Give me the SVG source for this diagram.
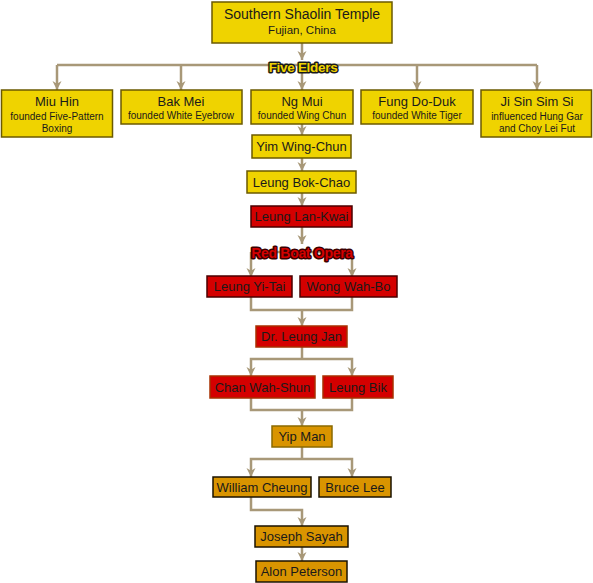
<svg xmlns="http://www.w3.org/2000/svg" width="593" height="583" viewBox="0 0 593 583">
<defs>
<marker id="arr" viewBox="0 0 10 10" refX="10" refY="5" markerWidth="9" markerHeight="10" markerUnits="userSpaceOnUse" orient="auto">
<path d="M0,0 L10,5 L0,10 L3,5 z" fill="#a89878"/>
</marker>
<style>
.c{fill:none;stroke:#a89878;stroke-width:2.5}
.y{fill:#efd300;stroke:#6b5a00;stroke-width:1.5}
.r{fill:#d40000;stroke:#4a0000;stroke-width:1.5}
.r2{fill:#d40000;stroke:#a83000;stroke-width:1.5}
.o{fill:#d99400;stroke:#1a1200;stroke-width:1.5}
.o2{fill:#d99400;stroke:#8a6a00;stroke-width:1.5}
text{font-family:"Liberation Sans","DejaVu Sans",sans-serif;fill:#1a1a1a;text-anchor:middle}
.n{font-size:13px}
.s{font-size:10px}
.t{font-size:14px}
.lbl{font-weight:bold;stroke:#1a1a1a;stroke-width:3px;paint-order:stroke;stroke-linejoin:round;letter-spacing:-0.3px}
</style>
</defs>
<g id="connectors">
<path class="c" d="M302,43 V60" marker-end="url(#arr)"/>
<path class="c" d="M57,65 H537"/>
<path class="c" d="M57,65 V90" marker-end="url(#arr)"/>
<path class="c" d="M181,65 V90" marker-end="url(#arr)"/>
<path class="c" d="M302,65 V90" marker-end="url(#arr)"/>
<path class="c" d="M417,65 V90" marker-end="url(#arr)"/>
<path class="c" d="M537,65 V90" marker-end="url(#arr)"/>
<path class="c" d="M302,124 V135" marker-end="url(#arr)"/>
<path class="c" d="M302,158 V171" marker-end="url(#arr)"/>
<path class="c" d="M302,193 V206" marker-end="url(#arr)"/>
<path class="c" d="M302,227 V244" marker-end="url(#arr)"/>
<path class="c" d="M251,252 H352"/>
<path class="c" d="M251,252 V277" marker-end="url(#arr)"/>
<path class="c" d="M352,252 V277" marker-end="url(#arr)"/>
<path class="c" d="M251,297 V310 H352 V297"/>
<path class="c" d="M302,310 V326" marker-end="url(#arr)"/>
<path class="c" d="M302,347 V359"/>
<path class="c" d="M302,359 H251 V376" marker-end="url(#arr)"/>
<path class="c" d="M302,359 H352 V376" marker-end="url(#arr)"/>
<path class="c" d="M251,398 V410 H352 V398"/>
<path class="c" d="M302,410 V426" marker-end="url(#arr)"/>
<path class="c" d="M302,447 V459"/>
<path class="c" d="M302,459 H251 V477" marker-end="url(#arr)"/>
<path class="c" d="M302,459 H352 V477" marker-end="url(#arr)"/>
<path class="c" d="M251,497 V510 H302 V526" marker-end="url(#arr)"/>
<path class="c" d="M302,547 V561" marker-end="url(#arr)"/>
</g>
<g id="temple"><rect class="y" x="212" y="2" width="180" height="41"/><text class="t" x="302" y="19">Southern Shaolin Temple</text><text class="s" x="302" y="34" style="font-size:11.5px">Fujian, China</text></g>
<g id="five-elders"><text class="lbl" x="303" y="71.5" style="fill:#efd300;font-size:13.5px">Five Elders</text></g>
<g id="miu-hin"><rect class="y" x="1.5" y="90" width="111" height="47"/><text class="n" x="57" y="106">Miu Hin</text><text class="s" x="57" y="120">founded Five-Pattern</text><text class="s" x="57" y="132">Boxing</text></g>
<g id="bak-mei"><rect class="y" x="121" y="90" width="121" height="34"/><text class="n" x="181" y="106">Bak Mei</text><text class="s" x="181" y="119">founded White Eyebrow</text></g>
<g id="ng-mui"><rect class="y" x="251" y="90" width="102" height="34"/><text class="n" x="302" y="106">Ng Mui</text><text class="s" x="302" y="119">founded Wing Chun</text></g>
<g id="fung-do-duk"><rect class="y" x="361" y="90" width="112" height="34"/><text class="n" x="417" y="106">Fung Do-Duk</text><text class="s" x="417" y="119">founded White Tiger</text></g>
<g id="ji-sin-sim-si"><rect class="y" x="481" y="90" width="110.5" height="47"/><text class="n" x="537" y="106">Ji Sin Sim Si</text><text class="s" x="537" y="120">influenced Hung Gar</text><text class="s" x="537" y="132">and Choy Lei Fut</text></g>
<g id="yim-wing-chun"><rect class="y" x="252" y="135" width="99" height="23"/><text class="n" x="301.5" y="151">Yim Wing-Chun</text></g>
<g id="leung-bok-chao"><rect class="y" x="247" y="171" width="109" height="22"/><text class="n" x="301.5" y="187">Leung Bok-Chao</text></g>
<g id="leung-lan-kwai"><rect class="r" x="251" y="206" width="101" height="21"/><text class="n" x="301.5" y="221">Leung Lan-Kwai</text></g>
<g id="red-boat-opera"><text class="lbl" x="302" y="257.5" style="fill:#d40000;stroke:#3a0000;font-size:14px">Red Boat Opera</text></g>
<g id="leung-yi-tai"><rect class="r" x="207" y="276" width="85" height="21"/><text class="n" x="249.5" y="291">Leung Yi-Tai</text></g>
<g id="wong-wah-bo"><rect class="r" x="300" y="276" width="97" height="21"/><text class="n" x="348.5" y="291">Wong Wah-Bo</text></g>
<g id="dr-leung-jan"><rect class="r2" x="256" y="326" width="91" height="21"/><text class="n" x="301.5" y="341">Dr. Leung Jan</text></g>
<g id="chan-wah-shun"><rect class="r2" x="210" y="376" width="105" height="22"/><text class="n" x="262.5" y="392">Chan Wah-Shun</text></g>
<g id="leung-bik"><rect class="r2" x="323" y="376" width="70" height="22"/><text class="n" x="358" y="392">Leung Bik</text></g>
<g id="yip-man"><rect class="o2" x="272" y="426" width="60" height="21"/><text class="n" x="302" y="441">Yip Man</text></g>
<g id="william-cheung"><rect class="o" x="213" y="477" width="98" height="20"/><text class="n" x="262" y="492">William Cheung</text></g>
<g id="bruce-lee"><rect class="o" x="319" y="477" width="72" height="20"/><text class="n" x="355" y="492">Bruce Lee</text></g>
<g id="joseph-sayah"><rect class="o" x="255" y="526" width="93" height="21"/><text class="n" x="301.5" y="541">Joseph Sayah</text></g>
<g id="alon-peterson"><rect class="o" x="256" y="561" width="91" height="21"/><text class="n" x="301.5" y="576">Alon Peterson</text></g>
</svg>
